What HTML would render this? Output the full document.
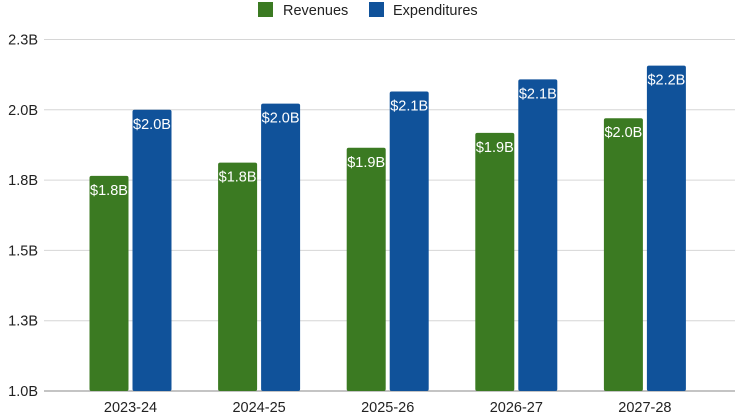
<!DOCTYPE html>
<html><head><meta charset="utf-8"><style>
body{margin:0;background:#fff;font-family:"Liberation Sans",Arial,sans-serif}
svg{display:block}
</style></head><body>
<svg id="chart" width="738" height="416">
<g>
<rect x="258" y="2" width="15" height="15" fill="#3b7a22"/>
<text x="283" y="15" font-size="14.5" fill="#222">Revenues</text>
<rect x="369" y="2" width="15" height="15" fill="#10529a"/>
<text x="393" y="15" font-size="14.5" fill="#222">Expenditures</text>
</g>
<g id="grid"></g><g id="bars"></g><g id="xaxis"></g>
</svg>
<script>
const categories=["2023-24","2024-25","2025-26","2026-27","2027-28"];
const revenues=[1.765,1.812,1.865,1.918,1.97];
const expenditures=[2.0,2.022,2.065,2.108,2.157];
const revLabels=["$1.8B","$1.8B","$1.9B","$1.9B","$2.0B"];
const expLabels=["$2.0B","$2.0B","$2.1B","$2.1B","$2.2B"];
const ticks=[1.0,1.25,1.5,1.75,2.0,2.25];
const tickLabels=["1.0B","1.3B","1.5B","1.8B","2.0B","2.3B"];
const NS="http://www.w3.org/2000/svg";
const yMin=1.0,yMax=2.25,y0=391,y1=39.5,xL=44,xR=735;
function y(v){return y0-(v-yMin)/(yMax-yMin)*(y0-y1);}
const band=128.6;
function xc(i){return 130.5+band*i;}
function mk(t,a,p){const e=document.createElementNS(NS,t);for(const k in a)e.setAttribute(k,a[k]);p.appendChild(e);return e;}
const grid=document.getElementById('grid');
ticks.forEach((t,i)=>{
 const l=mk('line',{x1:xL,x2:xR,y1:y(t),y2:y(t),stroke:i==0?'#888':'#d6d6d6','stroke-width':1},grid);
 
 
 const tx=mk('text',{x:38,y:y(t)+5,'text-anchor':'end','font-size':14.5,fill:'#222'},grid);
 tx.textContent=tickLabels[i];
 
 
});
const bars=document.getElementById('bars');
const bw=39,gap=4;
categories.forEach((c,i)=>{
 const cx=xc(i);
 [[revenues,revLabels,'#3b7a22',cx-gap/2-bw,'bar-revenue'],[expenditures,expLabels,'#10529a',cx+gap/2,'bar-expenditure']].forEach(s=>{
  const v=s[0][i],top=y(v);
  const r=mk('rect',{x:s[3],y:top,width:bw,height:y0-top,fill:s[2],rx:2},bars);
  
  
  const t=mk('text',{x:s[3]+bw/2,y:top+19,'text-anchor':'middle','font-size':14.5,fill:'#fff'},bars);
  t.textContent=s[1][i];
  
  
 });
 const xl=mk('text',{x:cx,y:412,'text-anchor':'middle','font-size':14.5,fill:'#222'},document.getElementById('xaxis'));
 xl.textContent=c;
 
 
});
</script>
</body></html>
